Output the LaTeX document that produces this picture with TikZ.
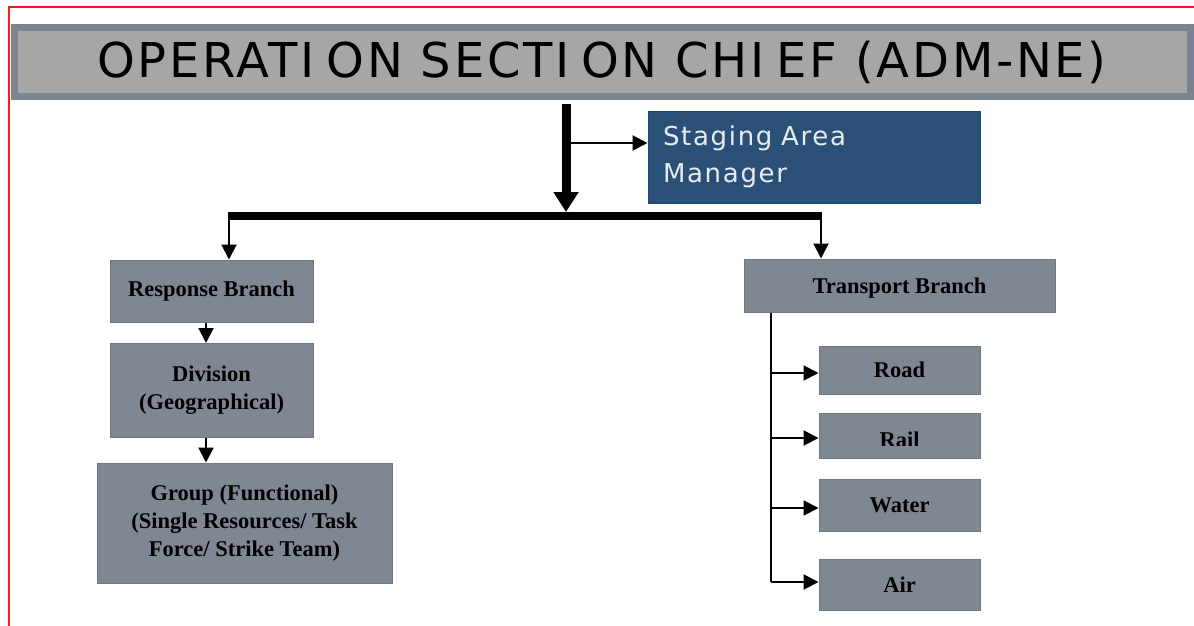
\documentclass[tikz,border=0pt]{standalone}
\usepackage{fontspec}
\setmainfont{Liberation Serif}
\newfontfamily\titlefont[LetterSpace=5.6]{DejaVu Sans}
\newfontfamily\stagefont[LetterSpace=6.5]{DejaVu Sans}
\usetikzlibrary{arrows.meta,calc}
\definecolor{redframe}{HTML}{FF1A1A}
\definecolor{titleedge}{HTML}{7B8491}
\definecolor{titlefill}{HTML}{A6A6A6}
\definecolor{stagefill}{HTML}{2B5077}
\definecolor{stageedge}{HTML}{24466A}
\definecolor{stagetext}{HTML}{E8ECF2}
\definecolor{boxfill}{HTML}{7F8793}
\definecolor{boxedge}{HTML}{6F7782}
\begin{document}
\begin{tikzpicture}[x=1pt,y=-1pt,
  unitbox/.style={rectangle, fill=boxfill, draw=boxedge, line width=1pt,
    inner sep=0pt, align=center, font=\bfseries\fontsize{22.5}{28}\selectfont},
  unitlabel/.style={inner sep=0pt, font=\bfseries\fontsize{22.5}{28}\selectfont},
  thin link/.style={line width=2pt, -{Triangle[length=15pt,width=15pt]}},
  plain link/.style={line width=2pt},
  thick link/.style={line width=9pt, -{Triangle[length=20pt,width=24pt]}},
  bar/.style={line width=8pt}
]
\useasboundingbox (0,0) rectangle (1194,626);

% page frame
\draw[redframe, line width=1.5pt] (9,626) -- (9,7) -- (1194,7);

% section chief banner
\node[draw=titleedge, line width=7pt, fill=titlefill, minimum width=1176pt,
  minimum height=69pt, inner sep=0pt,
  font=\titlefont\fontsize{48}{58}\selectfont] (chief) at (602,62)
  {\raisebox{-3pt}{OPERATI\kern12pt ON SECTI\kern12pt ON CHI\kern12pt EF (ADM-NE)}};

% staging area manager
\node[fill=stagefill, draw=stageedge, line width=1pt, minimum width=332pt,
  minimum height=92pt, text width=302pt, inner xsep=15pt, inner ysep=0pt,
  align=left, text=stagetext, font=\stagefont\fontsize{26}{37}\selectfont]
  (staging) at (814,157) {Staging Area\\Manager};

% response side
\node[unitbox, minimum width=203pt, minimum height=62pt] (resp) at (211.5,291) {Response Branch};
\node[unitbox, minimum width=203pt, minimum height=94pt] (div) at (211.5,390.5) {Division\\(Geographical)};
\node[unitbox, minimum width=295pt, minimum height=120pt] (group) at (244.5,523)
  {Group (Functional)\\(Single Resources/ Task\\Force/ Strike Team)};

% transport side
\node[unitbox, minimum width=311pt, minimum height=53pt, text depth=-2pt] (trans) at (899.5,285.5) {Transport Branch};
\node[unitbox, minimum width=161pt, minimum height=48pt, text depth=-2pt] (road) at (899.5,370) {Road};
\node[unitbox, minimum width=161pt, minimum height=45pt] (rail) at (899.5,435.5) {};
\begin{scope}
  \clip (rail.north west) rectangle ($(rail.east)+(0,9.5)$);
  \node[unitlabel, anchor=base] (railtext) at ($(rail.center)+(0,11.5)$) {Rail};
\end{scope}
\node[unitbox, minimum width=161pt, minimum height=52pt] (water) at (899.5,505) {Water};
\node[unitbox, minimum width=161pt, minimum height=51pt] (air) at (899.5,584.5) {Air};

% main trunk and distribution bar
\coordinate (hub) at (566,212);
\coordinate (tap) at (566,143);
\coordinate (barL) at (228,216);
\coordinate (barR) at (822,216);
\coordinate (spine) at (771,0);

\draw[thick link, shorten <=3.5pt] (chief.south -| hub) -- (hub);
\draw[thin link] (tap) -- (tap -| staging.west);
\draw[bar] (barL) -- (barR);
\draw[thin link] ($(barL)+(1,-4)$) -- ($(barL |- resp.north)+(1,0)$);
\draw[thin link] ($(barR)+(-1,-4)$) -- ($(barR |- trans.north)+(-1,0)$);

% response chain
\draw[thin link] ($(resp.south)+(-5.5,0)$) -- ($(div.north)+(-5.5,0)$);
\draw[thin link] ($(div.south)+(-5.5,0)$) -- ($(group.north -| div.south)+(-5.5,0)$);

% transport modes
\draw[plain link] (trans.south -| spine) -- ($(air.west -| spine)+(0,-2.5)$);
\draw[thin link] ($(road.west -| spine)+(0,3)$) -- ($(road.west)+(0,3)$);
\draw[thin link] ($(rail.west -| spine)+(0,2.5)$) -- ($(rail.west)+(0,2.5)$);
\draw[thin link] ($(water.west -| spine)+(0,3)$) -- ($(water.west)+(0,3)$);
\draw[thin link] ($(air.west -| spine)+(0,-2.5)$) -- ($(air.west)+(0,-2.5)$);
\end{tikzpicture}
\end{document}
